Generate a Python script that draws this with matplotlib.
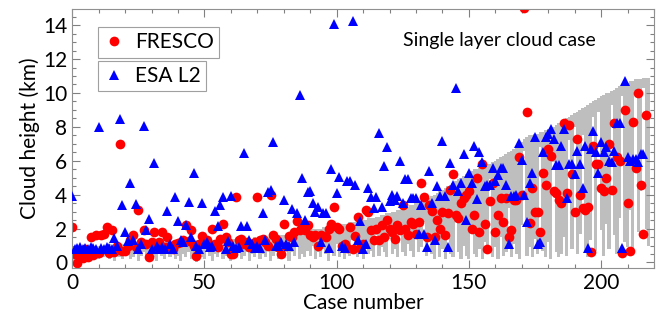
import numpy as np
import matplotlib.pyplot as plt
from matplotlib.ticker import MultipleLocator
from matplotlib.lines import Line2D

plt.rcParams['font.family'] = ['Lato', 'DejaVu Sans']

# case numbers 0..218
cases = np.arange(219)

# gray bars: cloud top / cloud base (km)
cloud_top = [
    0.9, 0.8, 1.0, 0.8, 0.9, 1.0, 0.9, 0.9, 1.0, 0.9,
    1.0, 0.9, 1.0, 1.0, 1.1, 1.0, 1.0, 1.1, 1.0, 1.1,
    1.1, 1.0, 1.1, 1.1, 1.1, 1.2, 1.1, 1.1, 1.2, 1.1,
    1.2, 1.1, 1.2, 1.2, 1.1, 1.2, 1.2, 1.2, 1.2, 1.2,
    1.2, 1.2, 1.3, 1.2, 1.2, 1.3, 1.2, 1.3, 1.2, 1.3,
    1.3, 1.2, 1.3, 1.3, 1.3, 1.3, 1.3, 1.3, 1.3, 1.4,
    1.3, 1.4, 1.3, 1.4, 1.4, 1.4, 1.4, 1.4, 1.4, 1.5,
    1.4, 1.5, 1.5, 1.5, 1.5, 1.5, 1.6, 1.5, 1.6, 1.6,
    1.6, 1.6, 1.7, 1.7, 1.7, 1.8, 1.8, 1.8, 1.9, 1.9,
    1.9, 2.0, 2.0, 2.0, 2.0, 2.1, 2.1, 2.1, 2.1, 2.2,
    2.2, 2.2, 2.3, 2.3, 2.3, 2.4, 2.4, 2.4, 2.5, 2.5,
    2.5, 2.5, 2.6, 2.6, 2.6, 2.7, 2.7, 2.8, 2.8, 2.9,
    2.9, 3.0, 3.0, 3.1, 3.1, 3.2, 3.2, 3.3, 3.4, 3.4,
    3.5, 3.5, 3.6, 3.6, 3.7, 3.8, 3.9, 4.0, 4.1, 4.2,
    4.3, 4.4, 4.5, 4.6, 4.7, 4.8, 4.9, 5.0, 5.1, 5.2,
    5.3, 5.4, 5.5, 5.5, 5.6, 5.6, 5.7, 5.8, 5.8, 5.9,
    6.0, 6.1, 6.2, 6.3, 6.4, 6.5, 6.6, 6.7, 6.9, 7.0,
    7.1, 7.3, 7.4, 7.5, 7.5, 7.6, 7.6, 7.7, 7.7, 7.8,
    7.9, 7.9, 8.0, 8.1, 8.2, 8.3, 8.4, 8.5, 8.6, 8.7,
    8.8, 8.9, 9.0, 9.1, 9.2, 9.3, 9.4, 9.5, 9.6, 9.7,
    9.8, 9.9, 10.0, 10.0, 10.1, 10.2, 10.3, 10.4, 10.5, 10.6,
    10.6, 10.7, 10.7, 10.8, 10.8, 10.8, 10.9, 10.9, 10.9,
]
cloud_base = [
    0.3, 0.1, 0.4, 0.2, 0.5, 0.3, 0.1, 0.6, 0.3, 0.4,
    0.2, 0.5, 0.3, 0.6, 0.2, 0.4, 0.1, 0.5, 0.3, 0.2,
    0.4, 0.6, 0.2, 0.3, 0.5, 0.1, 0.4, 0.6, 0.3, 0.2,
    0.5, 0.3, 0.1, 0.6, 0.4, 0.2, 0.5, 0.3, 0.6, 0.2,
    0.4, 0.1, 0.5, 0.3, 0.6, 0.2, 0.4, 0.0, 0.5, 0.3,
    0.2, 0.6, 0.4, 0.1, 0.5, 0.3, 0.7, 0.2, 0.4, 0.6,
    0.1, 0.5, 0.3, 0.7, 0.2, 0.4, 0.6, 0.1, 0.5, 0.3,
    0.7, 0.2, 0.5, 0.3, 0.8, 0.1, 0.4, 0.6, 0.2, 0.5,
    0.3, 0.8, 0.1, 0.6, 0.4, 0.9, 0.2, 0.5, 0.3, 0.7,
    0.4, 1.0, 0.2, 0.6, 0.3, 0.8, 0.5, 0.1, 0.7, 0.4,
    1.1, 0.3, 0.6, 0.2, 0.9, 0.4, 1.3, 0.5, 0.3, 0.8,
    0.2, 1.2, 0.5, 0.7, 0.3, 1.6, 0.4, 0.9, 0.6, 0.3,
    1.4, 0.5, 0.8, 0.3, 1.8, 0.6, 0.4, 1.1, 0.7, 0.3,
    1.5, 0.6, 0.9, 2.4, 0.4, 1.2, 0.5, 0.2, 1.6, 0.3,
    0.8, 0.2, 1.4, 0.5, 0.3, 2.8, 0.6, 0.2, 1.0, 0.4,
    0.2, 1.8, 0.5, 0.3, 0.8, 0.2, 1.2, 0.6, 4.9, 0.3,
    0.9, 0.2, 1.5, 0.4, 0.6, 3.2, 0.3, 1.1, 0.5, 0.2,
    2.2, 6.6, 0.4, 0.9, 0.3, 1.4, 0.5, 6.8, 0.7, 0.3,
    1.2, 0.2, 5.9, 0.6, 0.3, 0.5, 1.5, 0.4, 7.2, 0.8,
    8.0, 0.5, 1.7, 7.5, 0.6, 0.3, 1.3, 8.6, 0.7, 8.9,
    1.9, 0.4, 2.3, 0.8, 9.3, 1.6, 0.5, 2.6, 9.8, 1.2,
    0.9, 3.1, 0.6, 10.1, 1.8, 4.2, 10.3, 2.0, 1.0,
]

# FRESCO cloud height (km)
fresco = [
    2.1, 0.5, -0.05, 0.4, 0.25, 0.8, 0.3, 1.5, 0.45, 1.6,
    0.55, 1.6, 1.7, 2.1, 0.55, 1.9, 0.6, 1.0, 7.0, 0.7,
    0.65, 1.0, 1.3, 1.6, 0.9, 3.1, 1.2, 1.9, 1.1, 0.35,
    1.2, 1.8, 1.0, 1.2, 1.8, 0.9, 1.5, 1.0, 0.8, 1.1,
    1.15, 1.2, 1.3, 2.2, 1.25, 1.9, 1.0, 0.4, 1.1, 1.55,
    1.2, 1.3, 1.0, 2.0, 1.1, 0.9, 1.4, 2.25, 1.5, 1.2,
    0.5, 0.5, 3.85, 1.3, 1.4, 1.1, 1.2, 0.9, 1.0, 1.2,
    3.85, 1.3, 1.4, 1.2, 1.0, 4.0, 1.6, 1.4, 0.9, 0.5,
    2.25, 1.0, 1.55, 1.5, 1.8, 2.45, 1.9, 2.2, 1.9, 2.2,
    1.6, 1.5, 1.65, 1.0, 1.6, 1.55, 1.5, 2.0, 2.3, 3.3,
    2.1, 2.0, 1.0, 1.1, 0.85, 2.1, 0.8, 1.55, 2.7, 0.85,
    1.1, 3.1, 3.0, 1.9, 1.3, 2.0, 1.3, 2.2, 1.5, 2.5,
    2.0, 1.8, 1.4, 2.2, 1.9, 3.4, 2.0, 1.6, 2.4, 2.3,
    1.7, 2.4, 4.7, 3.85, 1.5, 3.4, 3.05, 1.5, 2.5, 2.0,
    3.0, 1.6, 2.9, 4.3, 5.2, 2.8, 2.6, 3.5, 3.8, 4.0,
    4.2, 2.0, 2.8, 5.0, 1.8, 5.8, 2.3, 0.8, 3.6, 4.7,
    1.8, 2.8, 3.8, 2.4, 3.8, 1.5, 1.9, 3.7, 3.7, 6.2,
    4.0, 15.0, 8.85, 2.35, 4.4, 3.0, 3.0, 1.8, 5.3, 4.6,
    6.7, 6.3, 4.2, 4.1, 3.7, 3.5, 8.2, 4.1, 8.1, 5.2,
    3.0, 7.3, 4.0, 3.2, 3.1, 3.3, 0.6, 6.9, 5.8, 5.8,
    4.4, 4.2, 5.0, 7.0, 4.3, 8.2, 6.2, 6.0, 0.55, 9.0,
    3.5, 0.65, 8.3, 5.55, 10.0, 4.6, 1.7, 8.7, np.nan,
]

# ESA L2 cloud height (km)
esa_l2 = [
    3.9, 0.8, 0.85, 0.9, 0.8, 0.85, 0.8, 0.9, 0.85, 0.8,
    8.0, 0.85, 0.8, 0.9, 0.85, 0.8, 1.43, 1.0, 8.45, 3.4,
    1.82, 1.29, 4.67, 1.33, 3.43, 0.78, 1.1, 8.07, 1.92, 2.57,
    0.78, 5.85, 1.0, 0.78, 0.9, 0.8, 3.06, 1.1, 0.8, 3.85,
    2.45, 1.3, 1.2, 2.2, 3.59, 1.5, 5.26, 1.0, 0.78, 3.53,
    1.1, 1.2, 0.9, 1.0, 3.06, 2.17, 3.39, 3.85, 0.78, 1.25,
    3.9, 1.0, 0.85, 0.9, 2.14, 6.48, 2.14, 1.3, 1.1, 0.85,
    1.0, 0.85, 2.9, 1.3, 4.18, 4.3, 7.13, 0.95, 1.0, 1.2,
    3.69, 1.1, 1.0, 3.16, 1.2, 2.93, 9.9, 4.97, 2.5, 4.18,
    4.2, 3.5, 3.0, 3.3, 1.2, 2.9, 2.9, 0.84, 5.5, 14.05,
    4.12, 5.06, 1.0, 0.84, 4.8, 4.8, 14.25, 4.6, 1.3, 2.45,
    0.8, 1.1, 4.41, 3.85, 3.2, 3.85, 7.66, 3.3, 5.69, 6.83,
    3.6, 4.0, 3.7, 3.9, 5.99, 3.5, 4.9, 4.9, 3.8, 3.8,
    3.8, 1.7, 3.4, 1.7, 0.9, 5.4, 3.5, 1.3, 4.5, 3.9,
    7.17, 3.9, 0.9, 5.85, 4.57, 10.3, 4.2, 4.7, 6.4, 2.5,
    5.26, 4.7, 6.87, 3.73, 6.54, 5.9, 4.5, 4.6, 4.6, 5.6,
    4.8, 5.16, 5.6, 5.6, 4.6, 1.09, 3.9, 3.9, 4.0, 7.03,
    6.05, 4.0, 2.4, 4.7, 5.3, 7.4, 1.1, 1.2, 6.5, 7.4,
    7.6, 7.9, 7.3, 5.75, 5.75, 6.9, 7.9, 3.8, 5.8, 5.8,
    5.2, 6.55, 5.8, 4.4, 6.9, 0.84, 6.7, 7.76, 6.5, 5.3,
    7.1, 6.5, 6.8, 6.0, 5.9, 6.6, 8.2, 8.2, 0.84, 10.73,
    6.2, 6.0, 6.1, 6.1, 5.9, 6.4, 6.4, np.nan, np.nan,
]

top = np.array(cloud_top)
base = np.array(cloud_base)

fig = plt.figure(figsize=(6.56, 3.23), dpi=100)
ax = fig.add_axes([0.110, 0.170, 0.887, 0.802])

# slightly wider than 1 so neighbouring bars touch without hairline gaps
ax.bar(cases, top - base, bottom=base, width=1.2, color='#bebebe', linewidth=0,
       antialiased=False, zorder=1)
ax.plot(cases, fresco, 'o', color='#ff0000', markersize=7, markeredgewidth=0, zorder=2)
ax.plot(cases, esa_l2, '^', color='#0000ff', markersize=7.5, markeredgewidth=0, zorder=3)

ax.set_xlim(0, 220)
ax.set_ylim(-0.33, 14.95)
ax.xaxis.set_major_locator(MultipleLocator(50))
ax.xaxis.set_minor_locator(MultipleLocator(10))
ax.yaxis.set_major_locator(MultipleLocator(2))
ax.yaxis.set_minor_locator(MultipleLocator(0.5))
ax.tick_params(which='both', direction='in', top=True, right=True, color='#808080', labelsize=15)
ax.tick_params(which='major', length=6, width=0.8)
ax.tick_params(which='minor', length=3, width=0.8)
for s in ax.spines.values():
    s.set_color('#909090')
    s.set_linewidth(0.8)

ax.set_xlabel('Case number', fontsize=15, labelpad=0)
ax.set_ylabel('Cloud height (km)', fontsize=15, labelpad=2)

ax.text(125, 13.1, 'Single layer cloud case', fontsize=14, va='center', ha='left')

h1 = Line2D([], [], marker='o', color='#ff0000', linestyle='none', markersize=7, markeredgewidth=0)
h2 = Line2D([], [], marker='^', color='#0000ff', linestyle='none', markersize=7.5, markeredgewidth=0)
leg1 = ax.legend([h1], ['FRESCO'], loc='upper left', bbox_to_anchor=(0.045, 0.93),
                 borderaxespad=0, fancybox=False, edgecolor='#a0a0a0', framealpha=1,
                 fontsize=15, handlelength=1.0, handletextpad=0.5, borderpad=0.25)
leg1.get_frame().set_linewidth(0.8)
ax.add_artist(leg1)
leg2 = ax.legend([h2], ['ESA L2'], loc='upper left', bbox_to_anchor=(0.045, 0.80),
                 borderaxespad=0, fancybox=False, edgecolor='#a0a0a0', framealpha=1,
                 fontsize=15, handlelength=1.0, handletextpad=0.5, borderpad=0.25)
leg2.get_frame().set_linewidth(0.8)

fig.savefig('out.png', dpi=100)
